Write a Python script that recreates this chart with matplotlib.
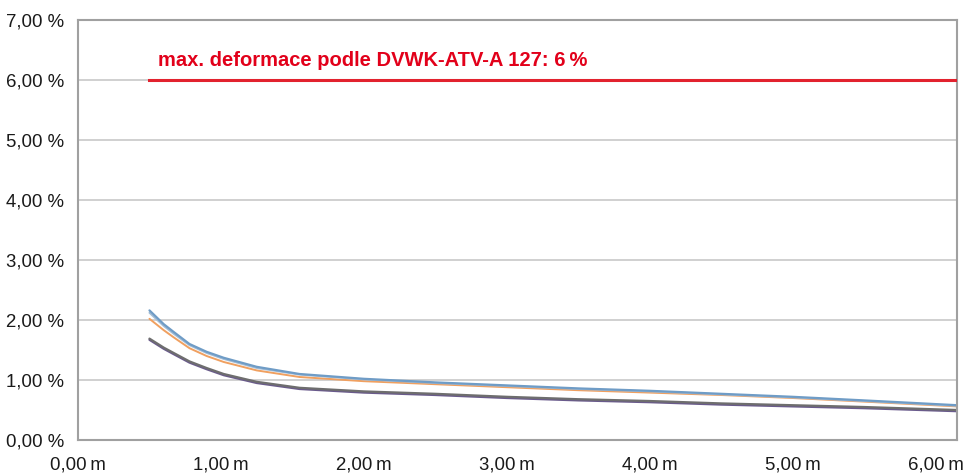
import matplotlib
matplotlib.use("Agg")
import matplotlib.pyplot as plt

plt.rcParams['font.family'] = ['Liberation Sans', 'DejaVu Sans']

# cover depth [m] and pipe deformation [%] for the different variants
depth = [0.5, 0.6, 0.67, 0.78, 0.9, 1.02, 1.25, 1.55, 2.0, 2.5, 3.0, 3.5, 4.0, 4.5, 5.0, 5.5, 6.15]
defl_blue = [2.16, 1.93, 1.80, 1.60, 1.47, 1.37, 1.22, 1.10, 1.02, 0.96, 0.91, 0.86, 0.82, 0.77, 0.72, 0.66, 0.58]
defl_steel = [2.12, 1.90, 1.77, 1.58, 1.45, 1.35, 1.20, 1.09, 1.01, 0.95, 0.90, 0.85, 0.81, 0.76, 0.71, 0.65, 0.57]
defl_orange = [2.02, 1.83, 1.71, 1.53, 1.40, 1.30, 1.16, 1.05, 0.98, 0.93, 0.88, 0.83, 0.79, 0.75, 0.70, 0.64, 0.56]
defl_grey = [1.69, 1.54, 1.45, 1.31, 1.20, 1.10, 0.97, 0.87, 0.81, 0.77, 0.72, 0.68, 0.65, 0.61, 0.58, 0.55, 0.50]
defl_purple = [1.67, 1.52, 1.43, 1.29, 1.18, 1.08, 0.95, 0.85, 0.79, 0.75, 0.70, 0.66, 0.63, 0.59, 0.56, 0.53, 0.48]

limit_x = [0.5, 6.15]
limit_y = [6.0, 6.0]
limit_label = "max. deformace podle DVWK-ATV-A 127: 6\u2009%"

y_ticks = [0, 1, 2, 3, 4, 5, 6, 7]
y_labels = ["0,00 %", "1,00 %", "2,00 %", "3,00 %", "4,00 %", "5,00 %", "6,00 %", "7,00 %"]
x_ticks = [0, 1, 2, 3, 4, 5, 6]
x_labels = ["0,00\u2009m", "1,00\u2009m", "2,00\u2009m", "3,00\u2009m", "4,00\u2009m", "5,00\u2009m", "6,00\u2009m"]

fig = plt.figure(figsize=(9.67, 4.75), dpi=100)
ax = fig.add_axes([78 / 967, 35 / 475, 879 / 967, 420 / 475])

ax.set_xlim(0, 6.15)
ax.set_ylim(0, 7)

# horizontal grid
for t in y_ticks[1:-1]:
    ax.axhline(t, color='#c8c8c8', lw=1.2, zorder=1)

ax.plot(limit_x, limit_y, color='#e2222e', lw=2.2, zorder=3)
ax.text(0.56, 6.23, limit_label, color='#e2001a', fontsize=14.5,
        fontweight='bold', va='baseline')

line_kw = dict(zorder=2, solid_joinstyle='round', solid_capstyle='round')
ax.plot(depth, defl_purple, color='#6a5b8c', lw=1.6, **line_kw)
ax.plot(depth, defl_grey, color='#6e6e6e', lw=1.6, **line_kw)
ax.plot(depth, defl_orange, color='#f0a060', lw=1.4, **line_kw)
ax.plot(depth, defl_steel, color='#a3bdd6', lw=1.4, **line_kw)
ax.plot(depth, defl_blue, color='#6f9cc6', lw=1.6, **line_kw)

ax.set_yticks(y_ticks)
ax.set_yticklabels(y_labels, fontsize=13.4, color='#1a1a1a')
ax.set_xticks(x_ticks)
ax.set_xticklabels(x_labels, fontsize=13.4, color='#1a1a1a')
ax.tick_params(axis='y', length=0, pad=10)
ax.tick_params(axis='x', length=0, pad=12)

for s in ax.spines.values():
    s.set_color('#a0a0a0')
    s.set_linewidth(1.5)

fig.savefig("out.png", dpi=100)
